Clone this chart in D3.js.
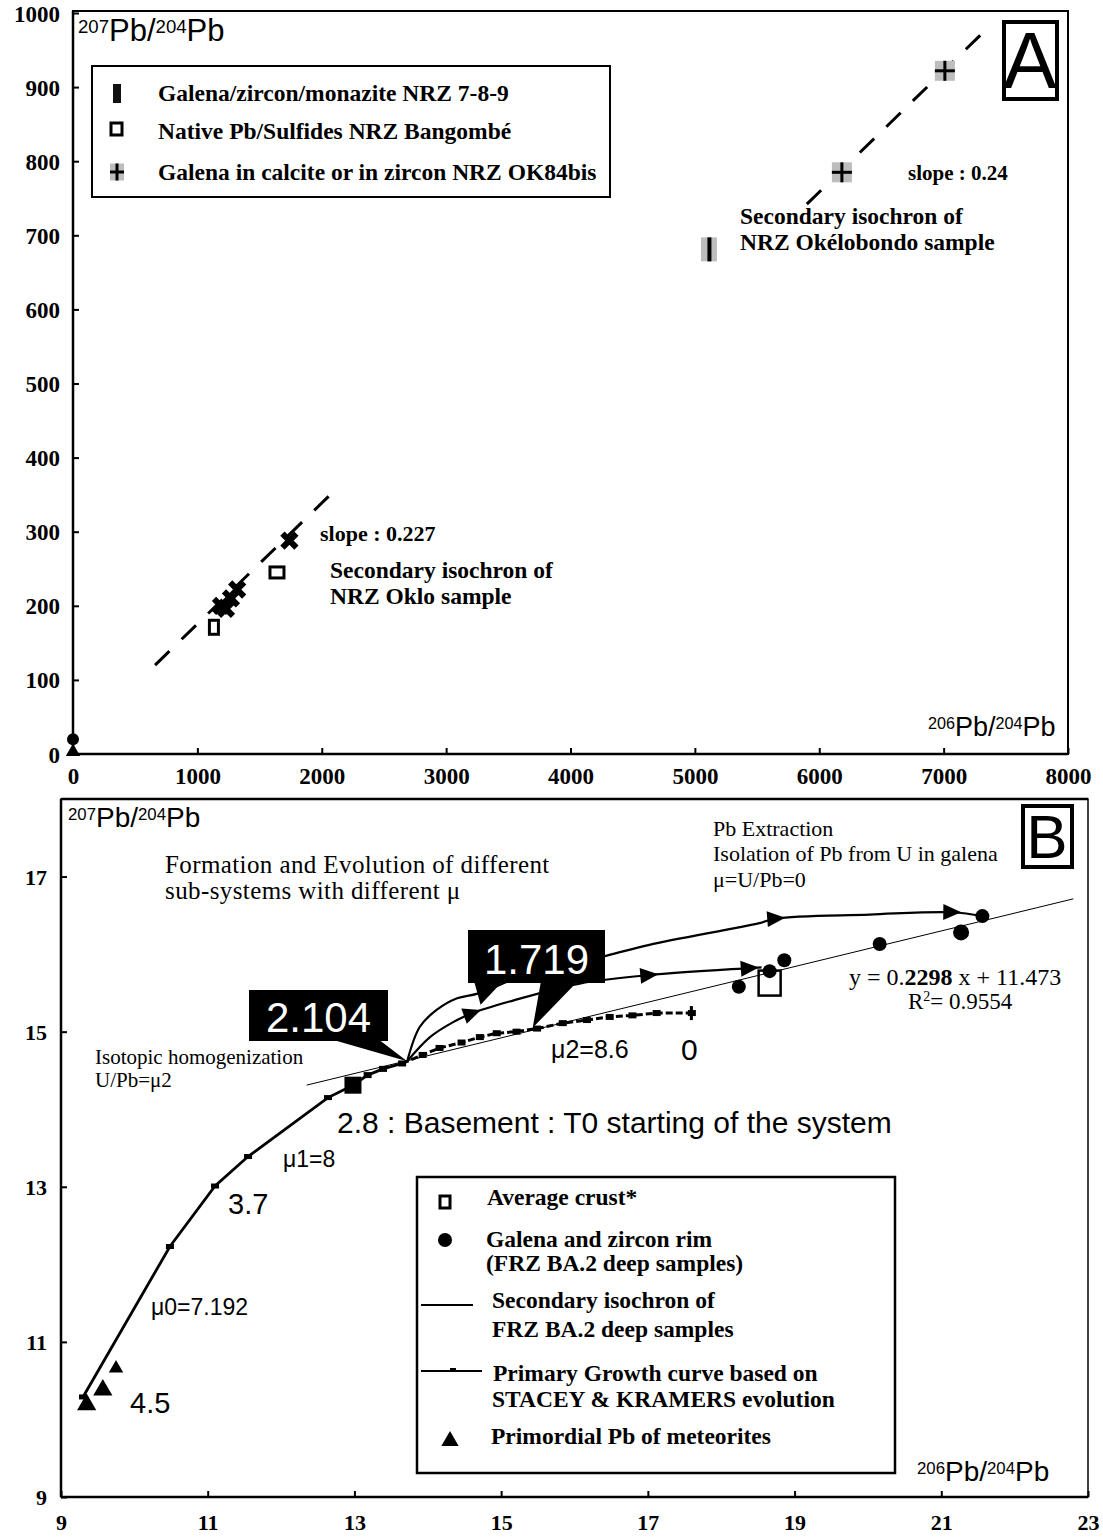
<!DOCTYPE html>
<html><head><meta charset="utf-8">
<script src="https://cdn.jsdelivr.net/npm/d3@7"></script>
<style>body{margin:0;background:#fff}svg{display:block}</style>
</head><body>
<svg id="c" width="1103" height="1537"></svg>
<script>
// ---------- Panel A data ----------
const aTicksX = [0,1000,2000,3000,4000,5000,6000,7000,8000];
const aTicksY = [0,100,200,300,400,500,600,700,800,900,1000];
const galenaNRZ_x = [1190,1230,1270,1320,1740];
const galenaNRZ_y = [200,196,210,222,288];
const bangombe_x = [1133,1640];
const bangombe_y = [171,245];
const ok84_x = [7010,6182];
const ok84_y = [922,785];
const ok84bar_x = [5113];
const ok84bar_y = [681];
const originCircle = [0,20];
const originTri = [0,3];
const okloLine_x = [660,2100];
const okloLine_y = [120,355];
const okeloLine_x = [5900,7307];
const okeloLine_y = [742,972];
// ---------- Panel B data ----------
const bTicksX = [9,11,13,15,17,19,21,23];
const bTicksY = [9,11,13,15,17];
const skX = [9.30,10.485,11.10,11.55,12.64,12.98,13.18,13.39,13.65,13.93,14.16,14.46,14.71,14.94,15.21,15.49,15.84,16.17,16.48,16.79,17.12,17.6];
const skY = [10.29,12.23,13.01,13.39,14.15,14.31,14.44,14.52,14.59,14.70,14.79,14.86,14.93,14.98,15.00,15.04,15.11,15.15,15.19,15.21,15.24,15.24];
const basementPt = [12.98,14.31];
const galenaB_x = [18.24,18.66,18.86,20.16,21.27,21.56];
const galenaB_y = [15.58,15.78,15.92,16.13,16.28,16.49];
const crust = [18.66,15.62];
const meteor_x = [9.35,9.57,9.75];
const meteor_y = [10.19,10.38,10.66];
const isoSlope = 0.2298, isoIntercept = 11.473;
const isoRange = [12.35,22.8];
const upX = [13.72,13.89,14.12,14.40,14.68,15.30,16.44,17.02,18.52,18.75,20.02,21.15,21.56];
const upY = [14.62,15.06,15.28,15.43,15.49,15.72,15.98,16.12,16.40,16.46,16.51,16.54,16.49];
const upArrows = [9,11];
const midX = [13.72,14.03,14.34,14.61,15.16,16.07,17.02,18.39,18.55];
const midY = [14.62,14.93,15.12,15.24,15.40,15.62,15.73,15.82,15.83];
const midArrows = [3,6,7];
const pt2104 = [13.72,14.62];
const pt1719a = [14.72,15.45];
const pt1719b = [15.43,15.05];

const svg = d3.select("#c");
const SERIF = "'Liberation Serif','Times New Roman',serif";
const SANS = "'Liberation Sans',Arial,Helvetica,sans-serif";

function txt(g, x, y, s, o={}) {
  const t = g.append("text").attr("x",x).attr("y",y).text(s)
    .style("font-family", o.f||SERIF).style("font-size",(o.s||19)+"px")
    .style("font-weight", o.w||"normal").attr("text-anchor", o.a||"start")
    .attr("fill", o.c||"#000");
  if (o.ls) t.style("letter-spacing", o.ls+"px");
  return t;
}
function pbLabel(g, x, y, top, bottom, size) {
  const t = g.append("text").attr("x",x).attr("y",y).style("font-family",SANS).attr("fill","#000");
  t.append("tspan").text(top).style("font-size",(size*0.6)+"px").attr("dy",-size*0.25);
  t.append("tspan").text("Pb/").style("font-size",size+"px").attr("dy",size*0.25);
  t.append("tspan").text(bottom).style("font-size",(size*0.6)+"px").attr("dy",-size*0.25);
  t.append("tspan").text("Pb").style("font-size",size+"px").attr("dy",size*0.25);
}

// ================= PANEL A =================
const xA = d3.scaleLinear([0,8000],[73,1068]);
const yA = d3.scaleLinear([0,1000],[754,13]);
const gA = svg.append("g");
gA.append("rect").attr("x",73).attr("y",11).attr("width",995).attr("height",743)
  .attr("fill","none").attr("stroke","#000").attr("stroke-width",2);
gA.append("line").attr("x1",73).attr("x2",73).attr("y1",11).attr("y2",754).attr("stroke","#000").attr("stroke-width",2.5);
gA.append("line").attr("x1",73).attr("x2",1068).attr("y1",754).attr("y2",754).attr("stroke","#000").attr("stroke-width",2.5);
const axAx = d3.axisBottom(xA).tickValues(aTicksX).tickSize(-6).tickPadding(12).tickFormat(d3.format("d"));
const gax = gA.append("g").attr("transform","translate(0,754)").call(axAx);
const axAy = d3.axisLeft(yA).tickValues(aTicksY).tickSize(-6).tickPadding(13).tickFormat(d3.format("d"));
const gay = gA.append("g").attr("transform","translate(73,0)").call(axAy);
[gax,gay].forEach(g=>{
  g.select(".domain").remove();
  g.selectAll(".tick line").attr("stroke","#000").attr("stroke-width",2);
  g.selectAll(".tick text").style("font-family",SERIF).style("font-size","23px").style("font-weight","bold").attr("fill","#000");
});
gay.selectAll(".tick text").attr("dy","0.35em");
gax.selectAll(".tick text").attr("dy","0.8em");

pbLabel(gA, 78, 41, "207", "204", 31);
pbLabel(gA, 928, 736, "206", "204", 27);

// legend A
gA.append("rect").attr("x",92).attr("y",66).attr("width",518).attr("height",131).attr("fill","#fff").attr("stroke","#000").attr("stroke-width",2);
gA.append("rect").attr("x",113).attr("y",84).attr("width",8).attr("height",19).attr("fill","#111");
gA.append("rect").attr("x",111).attr("y",123).attr("width",11).attr("height",12).attr("fill","#fff").attr("stroke","#000").attr("stroke-width",3);
function grayCross(g, cx, cy, w, h) {
  g.append("rect").attr("x",cx-w/2).attr("y",cy-h/2).attr("width",w).attr("height",h).attr("fill","#bdbdbd");
  g.append("line").attr("x1",cx-w/2).attr("x2",cx+w/2).attr("y1",cy).attr("y2",cy).attr("stroke","#000").attr("stroke-width",3);
  g.append("line").attr("x1",cx).attr("x2",cx).attr("y1",cy-h/2).attr("y2",cy+h/2).attr("stroke","#000").attr("stroke-width",3);
}
grayCross(gA, 117, 172, 14, 17);
txt(gA,158,101,"Galena/zircon/monazite NRZ 7-8-9",{w:"bold",s:23.5});
txt(gA,158,139,"Native Pb/Sulfides NRZ Bangombé",{w:"bold",s:23.5});
txt(gA,158,180,"Galena in calcite or in zircon NRZ OK84bis",{w:"bold",s:23.5});

// dashed lines
const lineA = d3.line().x(d=>xA(d[0])).y(d=>yA(d[1]));
gA.append("path").attr("d",lineA(okloLine_x.map((x,i)=>[x,okloLine_y[i]])))
  .attr("fill","none").attr("stroke","#000").attr("stroke-width",3).attr("stroke-dasharray","20,17");
gA.append("path").attr("d",lineA(okeloLine_x.map((x,i)=>[x,okeloLine_y[i]])))
  .attr("fill","none").attr("stroke","#000").attr("stroke-width",3).attr("stroke-dasharray","20,17");

// markers A
galenaNRZ_x.forEach((x,i)=>{
  gA.append("path").attr("d",d3.symbol(d3.symbolX,130)())
    .attr("transform",`translate(${xA(x)},${yA(galenaNRZ_y[i])})`)
    .attr("stroke","#000").attr("stroke-width",6).attr("fill","none");
});
bangombe_x.forEach((x,i)=>{
  const w = i===0?9:14, h = i===0?14:11;
  gA.append("rect").attr("x",xA(x)-w/2).attr("y",yA(bangombe_y[i])-h/2).attr("width",w).attr("height",h)
    .attr("fill","#fff").attr("stroke","#000").attr("stroke-width",3);
});
ok84_x.forEach((x,i)=>grayCross(gA, xA(x), yA(ok84_y[i]), 20, 20));
ok84bar_x.forEach((x,i)=>{
  const cx=xA(x), cy=yA(ok84bar_y[i]);
  gA.append("rect").attr("x",cx-8).attr("y",cy-12).attr("width",16).attr("height",24).attr("fill","#bdbdbd");
  gA.append("rect").attr("x",cx-1.5).attr("y",cy-12).attr("width",4).attr("height",24).attr("fill","#000");
});
gA.append("circle").attr("cx",xA(originCircle[0])).attr("cy",yA(originCircle[1])).attr("r",6).attr("fill","#000");
gA.append("path").attr("d",d3.symbol(d3.symbolTriangle,90)()).attr("transform",`translate(${xA(originTri[0])},${yA(originTri[1])})`).attr("fill","#000");

// labels A
txt(gA,908,180,"slope : 0.24",{w:"bold",s:21});
txt(gA,740,224,"Secondary isochron of",{w:"bold",s:23.5});
txt(gA,740,250,"NRZ Okélobondo sample",{w:"bold",s:23.5});
txt(gA,320,541,"slope : 0.227",{w:"bold",s:22});
txt(gA,330,578,"Secondary isochron of",{w:"bold",s:23.5});
txt(gA,330,604,"NRZ Oklo sample",{w:"bold",s:23.5});
gA.append("rect").attr("x",1004).attr("y",22).attr("width",53).attr("height",77).attr("fill","#fff").attr("stroke","#000").attr("stroke-width",4);
txt(gA,1030,88,"A",{f:SANS,s:80,a:"middle"});

// ================= PANEL B =================
const xB = d3.scaleLinear([9,23],[61,1088]);
const yB = d3.scaleLinear([9,18],[1497,799]);
const gB = svg.append("g");
gB.append("rect").attr("x",61).attr("y",799).attr("width",1027).attr("height",698)
  .attr("fill","none").attr("stroke","#000").attr("stroke-width",1.5);
gB.append("line").attr("x1",61).attr("x2",61).attr("y1",799).attr("y2",1497).attr("stroke","#000").attr("stroke-width",2.5);
gB.append("line").attr("x1",61).attr("x2",1088).attr("y1",1497).attr("y2",1497).attr("stroke","#000").attr("stroke-width",2.5);
gB.append("line").attr("x1",61).attr("x2",1088).attr("y1",799).attr("y2",799).attr("stroke","#000").attr("stroke-width",2.5);
const axBx = d3.axisBottom(xB).tickValues(bTicksX).tickSize(-6).tickPadding(14).tickFormat(d3.format("d"));
const gbx = gB.append("g").attr("transform","translate(0,1497)").call(axBx);
const axBy = d3.axisLeft(yB).tickValues(bTicksY).tickSize(-6).tickPadding(14).tickFormat(d3.format("d"));
const gby = gB.append("g").attr("transform","translate(61,0)").call(axBy);
[gbx,gby].forEach(g=>{
  g.select(".domain").remove();
  g.selectAll(".tick line").attr("stroke","#000").attr("stroke-width",2);
  g.selectAll(".tick text").style("font-family",SERIF).style("font-size","22px").style("font-weight","bold").attr("fill","#000");
});
gby.selectAll(".tick text").attr("dy","0.35em");
gbx.selectAll(".tick text").attr("dy","0.85em");

pbLabel(gB, 68, 827, "207", "204", 28);
pbLabel(gB, 917, 1481, "206", "204", 28);

// isochron
gB.append("line").attr("x1",xB(isoRange[0])).attr("y1",yB(isoSlope*isoRange[0]+isoIntercept))
  .attr("x2",xB(isoRange[1])).attr("y2",yB(isoSlope*isoRange[1]+isoIntercept))
  .attr("stroke","#000").attr("stroke-width",1);

// primary growth curve
const lineB = d3.line().x(d=>xB(d[0])).y(d=>yB(d[1]));
const skPts = skX.map((x,i)=>[x,skY[i]]);
gB.append("path").attr("d",lineB(skPts.slice(0,9))).attr("fill","none").attr("stroke","#000").attr("stroke-width",2.8);
gB.append("path").attr("d",lineB(skPts.slice(8))).attr("fill","none").attr("stroke","#000").attr("stroke-width",3).attr("stroke-dasharray","7,3");
skPts.forEach((p,i)=>{
  const big = (p[0]===basementPt[0]);
  const w = big?17:8, h = big?17:(i<5?5:6);
  gB.append("rect").attr("x",xB(p[0])-w/2).attr("y",yB(p[1])-h/2).attr("width",w).attr("height",h).attr("fill","#000");
});
gB.append("rect").attr("x",xB(skX[skX.length-1])-2).attr("y",yB(skY[skY.length-1])-7).attr("width",3).attr("height",14).attr("fill","#000");

// evolution curves
const curve = d3.line().x(d=>xB(d[0])).y(d=>yB(d[1])).curve(d3.curveCatmullRom);
const upPts = upX.map((x,i)=>[x,upY[i]]);
const midPts = midX.map((x,i)=>[x,midY[i]]);
gB.append("path").attr("d",curve(upPts)).attr("fill","none").attr("stroke","#000").attr("stroke-width",2.2);
gB.append("path").attr("d",curve(midPts)).attr("fill","none").attr("stroke","#000").attr("stroke-width",2.2);
function arrowAt(pts, i) {
  const a = pts[Math.max(0,i-1)], b = pts[Math.min(pts.length-1,i+1)];
  const ang = Math.atan2(yB(b[1])-yB(a[1]), xB(b[0])-xB(a[0]))*180/Math.PI;
  gB.append("path").attr("d","M9,0 L-9,-8 L-9,8 Z").attr("fill","#000")
    .attr("transform",`translate(${xB(pts[i][0])},${yB(pts[i][1])}) rotate(${ang})`);
}
upArrows.forEach(i=>arrowAt(upPts,i));
midArrows.forEach(i=>arrowAt(midPts,i));

// galena circles
galenaB_x.forEach((x,i)=>{
  gB.append("circle").attr("cx",xB(x)).attr("cy",yB(galenaB_y[i])).attr("r",i===4?8:7).attr("fill","#000");
});
// average crust
gB.append("rect").attr("x",xB(crust[0])-11).attr("y",yB(crust[1])-13).attr("width",22).attr("height",25)
  .attr("fill","none").attr("stroke","#000").attr("stroke-width",2.5);
// meteorites
meteor_x.forEach((x,i)=>{
  gB.append("path").attr("d",d3.symbol(d3.symbolTriangle,i===2?90:160)())
    .attr("transform",`translate(${xB(x)},${yB(meteor_y[i])})`).attr("fill","#000");
});

// callouts
function callout(x,y,w,h,label,pointers){
  const g = gB.append("g");
  pointers.forEach(p=>{
    g.append("path").attr("d",`M${p[0]},${y+h-2} L${p[1]},${y+h-2} L${p[2]},${p[3]} Z`).attr("fill","#000");
  });
  g.append("rect").attr("x",x).attr("y",y).attr("width",w).attr("height",h).attr("fill","#000");
  txt(g,x+w/2,y+h-9,label,{f:SANS,s:42,a:"middle",c:"#fff"});
}
callout(249,990,139,51,"2.104",[[330,378,xB(pt2104[0]),yB(pt2104[1])]]);
callout(468,930,137,53,"1.719",[[474,503,xB(pt1719a[0]),yB(pt1719a[1])+8],[541,578,xB(pt1719b[0]),yB(pt1719b[1])]]);

// B text labels
txt(gB,165,873,"Formation and Evolution of different",{s:25,ls:0.4});
txt(gB,165,899,"sub-systems with  different μ",{s:25,ls:0.4});
txt(gB,713,836,"Pb Extraction",{s:22});
txt(gB,713,861,"Isolation of Pb from U in galena",{s:22});
txt(gB,713,887,"μ=U/Pb=0",{s:22});
gB.append("rect").attr("x",1023).attr("y",806).attr("width",49).attr("height",61).attr("fill","#fff").attr("stroke","#000").attr("stroke-width",4);
txt(gB,1047,858,"B",{f:SANS,s:62,a:"middle"});
txt(gB,95,1064,"Isotopic homogenization",{s:21});
txt(gB,95,1087,"U/Pb=μ2",{s:21});
txt(gB,551,1058,"μ2=8.6",{f:SANS,s:25});
txt(gB,681,1060,"0",{f:SANS,s:30});
txt(gB,337,1133,"2.8 : Basement : T0 starting of the system",{f:SANS,s:30});
txt(gB,283,1167,"μ1=8",{f:SANS,s:23});
txt(gB,228,1214,"3.7",{f:SANS,s:29});
txt(gB,151,1315,"μ0=7.192",{f:SANS,s:23});
txt(gB,130,1413,"4.5",{f:SANS,s:29});
const eq = gB.append("text").attr("x",849).attr("y",985).style("font-family",SERIF).style("font-size","24px").attr("fill","#000");
eq.append("tspan").text("y = 0.");
eq.append("tspan").text("2298").style("font-weight","bold");
eq.append("tspan").text(" x + 11.473");
const r2 = gB.append("text").attr("x",908).attr("y",1009).style("font-family",SERIF).style("font-size","23px").attr("fill","#000");
r2.append("tspan").text("R");
r2.append("tspan").text("2").style("font-size","14px").attr("dy",-8);
r2.append("tspan").text("= 0.9554").attr("dy",8);

// legend B
gB.append("rect").attr("x",417).attr("y",1177).attr("width",478).attr("height",296).attr("fill","#fff").attr("stroke","#000").attr("stroke-width",2.5);
gB.append("rect").attr("x",440).attr("y",1196).attr("width",10).attr("height",12).attr("fill","none").attr("stroke","#000").attr("stroke-width",3);
gB.append("circle").attr("cx",445).attr("cy",1240).attr("r",7).attr("fill","#000");
gB.append("line").attr("x1",421).attr("x2",473).attr("y1",1305).attr("y2",1305).attr("stroke","#000").attr("stroke-width",2);
gB.append("line").attr("x1",421).attr("x2",482).attr("y1",1371).attr("y2",1371).attr("stroke","#000").attr("stroke-width",2);
gB.append("rect").attr("x",450).attr("y",1368).attr("width",6).attr("height",4).attr("fill","#000");
gB.append("path").attr("d",d3.symbol(d3.symbolTriangle,130)()).attr("transform","translate(450,1441)").attr("fill","#000");
const LB = {w:"bold",s:23.5};
txt(gB,487,1205,"Average crust*",LB);
txt(gB,486,1247,"Galena and zircon rim",LB);
txt(gB,486,1271,"(FRZ BA.2 deep samples)",LB);
txt(gB,492,1308,"Secondary isochron of",LB);
txt(gB,492,1337,"FRZ BA.2 deep samples",LB);
txt(gB,493,1381,"Primary Growth curve based on",LB);
txt(gB,492,1407,"STACEY & KRAMERS evolution",LB);
txt(gB,491,1444,"Primordial Pb of meteorites",LB);
</script>
</body></html>
